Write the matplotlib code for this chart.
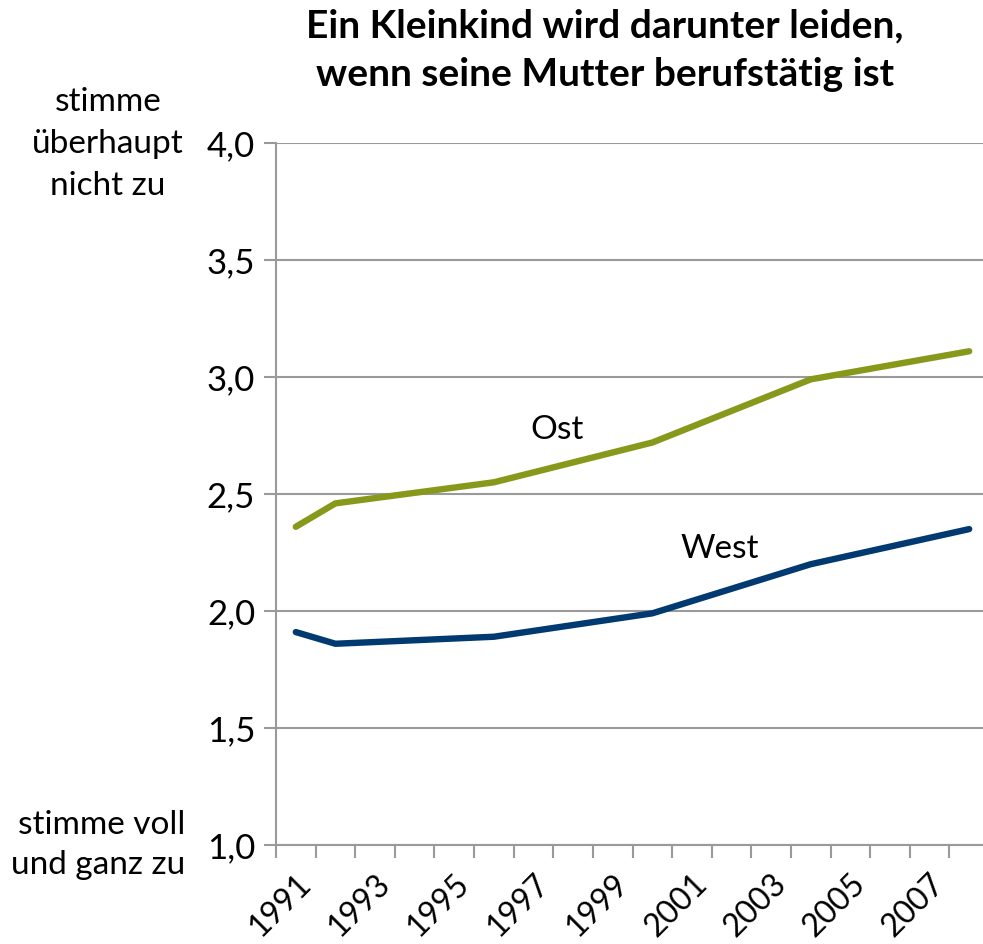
import matplotlib
matplotlib.use("Agg")
import matplotlib.pyplot as plt
from matplotlib.ticker import FixedLocator
from matplotlib.transforms import ScaledTranslation

plt.rcParams['font.family'] = ['Lato', 'DejaVu Sans']

# data
years = [1991, 1992, 1996, 2000, 2004, 2008]
ost = [2.36, 2.46, 2.55, 2.72, 2.99, 3.11]
west = [1.91, 1.86, 1.89, 1.99, 2.20, 2.35]
all_years = list(range(1991, 2009))
label_years = list(range(1991, 2009, 2))
y_ticks = [1.0, 1.5, 2.0, 2.5, 3.0, 3.5, 4.0]

green = '#87981a'
navy = '#003a70'
grey = '#9a9a9a'


def main():
    fig = plt.figure(figsize=(9.83, 9.44), dpi=100)
    ax = fig.add_axes([276 / 983, 99 / 944, 713 / 983, 702 / 944])

    pos = [all_years.index(y) for y in years]
    ax.plot(pos, ost, color=green, linewidth=4.6, solid_capstyle='round', solid_joinstyle='round', zorder=3)
    ax.plot(pos, west, color=navy, linewidth=4.6, solid_capstyle='round', solid_joinstyle='round', zorder=3)

    ax.set_xlim(-0.5, len(all_years) - 0.5)
    ax.set_ylim(1.0, 4.0)

    ax.set_yticks(y_ticks)
    ax.set_yticklabels([f"{v:.1f}".replace('.', ',') for v in y_ticks], fontsize=25)
    ax.yaxis.grid(True, color=grey, linewidth=1.5)
    ax.set_axisbelow(True)

    ax.xaxis.set_major_locator(FixedLocator([all_years.index(y) for y in label_years]))
    ax.set_xticklabels([str(y) for y in label_years], fontsize=23, rotation=45,
                       ha='right', rotation_mode='anchor')
    shift = ScaledTranslation(12 / 100, 0, fig.dpi_scale_trans)
    for lbl in ax.get_xticklabels():
        lbl.set_transform(lbl.get_transform() + shift)
    ax.xaxis.set_minor_locator(FixedLocator([i - 0.5 for i in range(len(all_years) + 1)]))
    ax.tick_params(axis='x', which='major', length=0, pad=17)
    ax.tick_params(axis='x', which='minor', length=9, width=1.5, color=grey)
    ax.tick_params(axis='y', length=9, width=1.5, color=grey, pad=6)

    for s in ['top', 'right']:
        ax.spines[s].set_visible(False)
    for s in ['left', 'bottom']:
        ax.spines[s].set_color(grey)
        ax.spines[s].set_linewidth(1.5)

    ax.text(all_years.index(1997) + 0.6, 2.775, 'Ost', fontsize=24, ha='center', va='center')
    ax.text(all_years.index(2001) + 0.7, 2.265, 'West', fontsize=24, ha='center', va='center')

    fig.text(605 / 983, 1 - 8 / 944, 'Ein Kleinkind wird darunter leiden,\nwenn seine Mutter berufstätig ist',
             fontsize=28, fontweight='bold', ha='center', va='top', linespacing=1.5)
    fig.text(108 / 983, 1 - 144 / 944, 'stimme\nüberhaupt\nnicht zu', fontsize=24,
             ha='center', va='center', linespacing=1.5)
    fig.text(185 / 983, 1 - 845 / 944, 'stimme voll\nund ganz zu', fontsize=24,
             ha='right', va='center', linespacing=1.45)

    fig.savefig('out.png', dpi=100)


if __name__ == "__main__":
    main()
